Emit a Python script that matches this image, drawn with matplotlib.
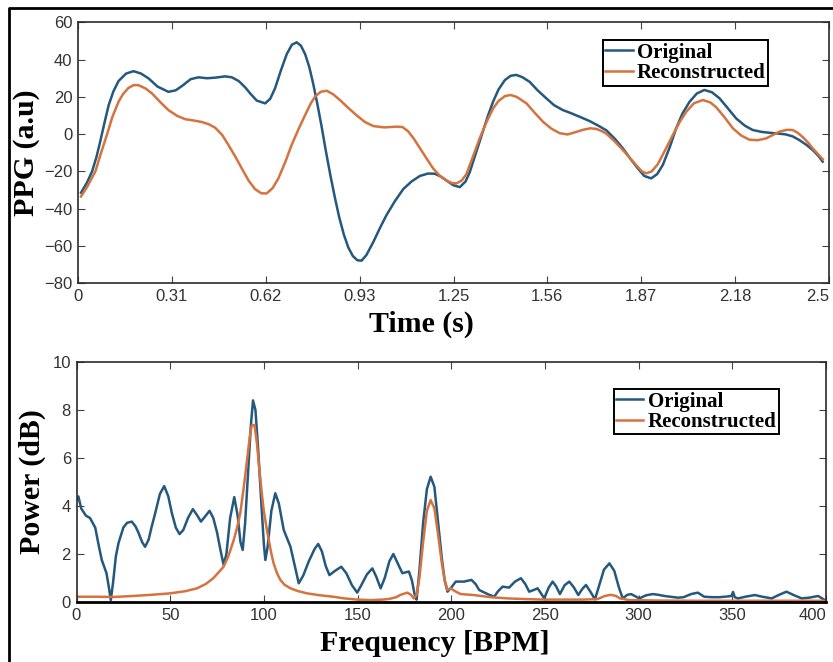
import matplotlib
matplotlib.use("Agg")
import matplotlib.pyplot as plt
from matplotlib.lines import Line2D

# ---------------- data ----------------
t_orig = [0.010,0.030,0.047,0.062,0.074,0.088,0.102,0.118,0.135,0.160,0.185,0.210,0.235,0.265,0.301,0.325,0.346,0.375,0.401,0.430,0.456,0.490,0.512,0.535,0.556,0.575,0.595,0.623,0.640,0.656,0.675,0.695,0.712,0.728,0.742,0.756,0.770,0.783,0.797,0.811,0.825,0.840,0.855,0.870,0.885,0.900,0.915,0.930,0.944,0.960,0.983,1.005,1.027,1.055,1.083,1.110,1.138,1.165,1.188,1.210,1.227,1.250,1.271,1.290,1.304,1.325,1.348,1.365,1.382,1.400,1.421,1.440,1.459,1.480,1.504,1.530,1.559,1.585,1.614,1.637,1.670,1.703,1.730,1.759,1.787,1.814,1.840,1.864,1.885,1.908,1.928,1.947,1.970,1.991,2.012,2.036,2.060,2.085,2.110,2.135,2.160,2.191,2.220,2.246,2.275,2.302,2.330,2.357,2.380,2.401,2.425,2.446,2.465,2.479]
ppg_orig = [-31.5,-26,-20,-12,-4,6,15.5,23,28.5,32.5,33.8,32.5,29.9,25.5,22.7,23.5,25.8,29.5,30.5,30.0,30.3,31,30.5,28.5,25.2,21.5,18,16.5,19,24.6,34,43,48,49.3,47.5,43,36,27,16,4,-9,-22,-34,-45,-54,-61,-65.5,-67.8,-68,-65,-58,-50.5,-43.5,-36,-29.5,-25.5,-22.5,-21.2,-21.3,-23,-25,-27.5,-28.5,-25.5,-20.5,-10,1.5,10,17.5,24,29,31.3,31.8,30.5,28,23.5,19.2,15.5,12.9,11.5,9.3,7,4.7,2,-2.5,-7.7,-13.5,-18.5,-22.5,-23.8,-21.5,-16.5,-7,3,11,17.4,21.8,23.7,22.5,19.3,14.5,8.4,4.5,2.2,1.2,0.7,0.3,-0.2,-1.3,-3.2,-5.8,-8.6,-11.8,-14.8]

t_rec = [0.010,0.030,0.058,0.075,0.096,0.115,0.135,0.150,0.168,0.185,0.201,0.225,0.246,0.275,0.301,0.330,0.357,0.385,0.412,0.435,0.456,0.480,0.501,0.525,0.545,0.568,0.589,0.610,0.628,0.648,0.667,0.690,0.711,0.735,0.756,0.775,0.789,0.808,0.828,0.850,0.872,0.900,0.928,0.955,0.983,1.020,1.060,1.080,1.099,1.118,1.138,1.160,1.182,1.205,1.227,1.245,1.260,1.277,1.293,1.315,1.337,1.360,1.382,1.400,1.421,1.440,1.460,1.493,1.520,1.548,1.575,1.603,1.630,1.655,1.681,1.705,1.725,1.745,1.759,1.787,1.814,1.838,1.858,1.877,1.892,1.910,1.930,1.955,1.980,2.003,2.025,2.050,2.080,2.105,2.124,2.150,2.180,2.208,2.235,2.262,2.291,2.315,2.335,2.360,2.379,2.395,2.412,2.430,2.446,2.462,2.479]
ppg_rec = [-33.5,-28.5,-20,-11,-0.5,9.5,17.4,21.5,24.8,26.3,26.3,24.5,21.9,17,12.9,9.8,8.0,7.3,6.5,5.3,3.5,-0.5,-5.9,-12.5,-18.4,-25,-29.5,-31.8,-31.9,-29,-23.8,-15,-5.9,3,10.2,16.5,20.1,22.7,23.3,21.3,18.3,14,10,6.5,4.3,3.6,4,3.8,1.5,-2.5,-7.5,-13,-18.4,-22.5,-25,-26.3,-26.5,-25,-21.5,-12,-2.3,6.5,13.8,17.8,20.4,21,20,16.5,11.5,6.6,3,0.5,-0.2,1,2.3,3.1,2.8,1.5,0.2,-4,-8.6,-13,-16.7,-20,-21.1,-20,-16.2,-8.5,-0.5,6.5,12,16.5,18.3,17,14.5,9.5,3.1,-0.8,-3,-3.3,-2.3,-0.3,1.3,2.3,2.2,0.8,-1.5,-4.5,-7.7,-10.5,-13.5]

f_orig = [0,1,2.5,5,7.2,10,12,13.5,16,17.3,18.3,19.5,21,22.4,25,27,29.5,31.5,33,35,36.6,38.5,40,42,44.5,46.8,49,50.9,53,55,57,59.5,62.1,64.5,66.4,68.5,71,73,75,77,78.5,80,82,84.2,86,87.5,88.7,90,91.5,93,94.2,95.5,97,98.5,100,100.8,102,104,106.1,108,110.6,114.2,116.5,118.6,121,124,127,129,131,133,135,138,141.3,144,147,149.8,152,155,157.9,160,162.3,164.5,167,169.1,171.5,173.9,177.4,179,180.5,181.5,183,185,187,189,191,193,195,196.5,198,200,202.4,206.8,210.8,213,214.9,219.4,222.9,225,227.4,230.9,234,237.2,239.5,241.6,244,246.1,248,249.6,252,254.1,256,258,260.5,263,265.5,267.8,270,271.9,274.5,276.7,279,281.5,284.4,287,289.5,291.5,294,296,298,300.4,304,307.6,310.5,313.8,317,321,324,328,331.6,335,339,343,346,349.5,350.4,351.3,353,357,362,366,371,375,378.9,383,387,391,395.8,399.4]
pow_orig = [4.25,4.4,3.9,3.6,3.5,3.1,2.3,1.75,1.2,0.6,0.08,0.8,1.9,2.45,3.1,3.3,3.35,3.15,2.9,2.5,2.3,2.6,3.1,3.7,4.5,4.83,4.4,3.7,3.1,2.83,3.0,3.5,3.87,3.6,3.35,3.55,3.8,3.5,2.9,2.1,1.55,2.0,3.5,4.37,3.6,2.5,2.17,3.3,5.3,7.3,8.4,8.0,6.3,4.3,2.4,1.75,2.3,3.8,4.53,4.1,3.0,2.3,1.5,0.78,1.1,1.7,2.2,2.42,2.1,1.5,1.12,1.3,1.47,1.2,0.7,0.39,0.7,1.15,1.4,1.05,0.57,1.0,1.7,2.0,1.6,1.2,1.27,0.9,0.3,0.1,1.3,3.3,4.7,5.22,4.8,3.3,1.8,0.9,0.43,0.6,0.85,0.85,0.92,0.75,0.5,0.33,0.22,0.45,0.64,0.6,0.85,0.99,0.75,0.43,0.5,0.57,0.35,0.15,0.6,0.85,0.65,0.33,0.7,0.85,0.6,0.29,0.55,0.71,0.4,0.11,0.7,1.35,1.61,1.3,0.6,0.15,0.3,0.33,0.25,0.15,0.28,0.33,0.3,0.25,0.22,0.18,0.2,0.33,0.39,0.22,0.2,0.2,0.22,0.25,0.42,0.2,0.15,0.22,0.29,0.22,0.15,0.3,0.43,0.28,0.15,0.18,0.25,0.08]

f_rec = [0,10,20,30,40,50,58,64.3,69,73,76,78.5,81,83.9,85.7,87.4,89.3,91,92.5,93.5,95,96.3,97.5,98.8,99.9,101.2,102.6,103.9,105.2,107,108.8,111,114.2,118,123,130,137,143,149.8,157,163.5,167,170.6,173,176.6,178.5,180,181.5,183,185,187,189,191,193,195,196.5,198,199.7,202,205,212,221,230,240,250,260,270,278,282,285,288,290,295,310,330,350,370,390,400]
pow_rec = [0.22,0.22,0.21,0.25,0.3,0.36,0.45,0.57,0.75,0.99,1.25,1.47,1.9,2.58,3.1,3.7,4.8,5.9,6.9,7.35,7.38,6.6,5.6,4.6,3.83,3.2,2.58,2.05,1.61,1.2,0.92,0.72,0.57,0.46,0.36,0.28,0.22,0.15,0.1,0.08,0.1,0.13,0.2,0.3,0.39,0.3,0.15,0.3,1.0,2.5,3.8,4.25,3.9,2.8,1.6,0.9,0.5,0.57,0.45,0.33,0.29,0.2,0.15,0.12,0.1,0.1,0.1,0.12,0.25,0.3,0.25,0.15,0.08,0.06,0.05,0.05,0.05,0.05,0.05]

time_ticks = [0, 0.3125, 0.625, 0.9375, 1.25, 1.5625, 1.875, 2.1875, 2.5]
time_labels = ['0', '0.31', '0.62', '0.93', '1.25', '1.56', '1.87', '2.18', '2.5']
ppg_ticks = [-80, -60, -40, -20, 0, 20, 40, 60]
freq_ticks = [0, 50, 100, 150, 200, 250, 300, 350, 400]
pow_ticks = [0, 2, 4, 6, 8, 10]
series_names = ['Original', 'Reconstructed']

# ---------------- style ----------------
W, H = 833, 662
C_BLUE = '#24587f'
C_ORANGE = '#d4733f'
LW = 1.8
TICK_FONT = ['Liberation Sans', 'DejaVu Sans']
LABEL_FONT = ['Liberation Serif', 'DejaVu Serif']
LABEL_SIZE = 21.5

fig = plt.figure(figsize=(W / 100, H / 100), dpi=100)
fig.patch.set_facecolor('white')


def box(l, t, r, b):
    return [l / W, 1 - b / H, (r - l) / W, (b - t) / H]


def style_axes(ax):
    for s in ax.spines.values():
        s.set_color('#2a2a2a')
        s.set_linewidth(1.2)
    ax.tick_params(direction='in', length=5, width=0.8, color='#444444',
                   top=True, right=True, labelsize=12, labelcolor='#333333', pad=4)
    for lab in ax.get_xticklabels() + ax.get_yticklabels():
        lab.set_family(TICK_FONT)
    # keep the last x tick label inside the figure
    ax.get_xticklabels()[-1].set_horizontalalignment('right')


def legend(ax, anchor):
    lg = ax.legend(series_names, loc='upper left', bbox_to_anchor=anchor,
                   prop={'family': LABEL_FONT, 'weight': 'bold', 'size': 15},
                   frameon=True, fancybox=False, shadow=False,
                   handlelength=1.3, handletextpad=0.2, borderpad=0.12,
                   labelspacing=0.02, borderaxespad=0)
    fr = lg.get_frame()
    fr.set_edgecolor('black')
    fr.set_linewidth(1.4)
    fr.set_alpha(1)


# ---- top: PPG ----
ax1 = fig.add_axes(box(78, 22.4, 829, 283))
ax1.plot(t_orig, ppg_orig, color=C_BLUE, lw=LW)
ax1.plot(t_rec, ppg_rec, color=C_ORANGE, lw=LW)
ax1.set_xlim(0, 2.5)
ax1.set_ylim(-80, 60)
ax1.set_xticks(time_ticks)
ax1.set_xticklabels(time_labels)
ax1.set_yticks(ppg_ticks)
style_axes(ax1)
ax1.set_xlabel('Time (s)', family=LABEL_FONT, weight='bold', fontsize=LABEL_SIZE)
ax1.xaxis.set_label_coords(0.457, -0.108)
ax1.set_ylabel('PPG (a.u)', family=LABEL_FONT, weight='bold', fontsize=LABEL_SIZE, labelpad=3)
legend(ax1, (0.699, 0.932))

# ---- bottom: spectrum ----
ax2 = fig.add_axes(box(76.5, 362, 826, 602))
ax2.plot(f_orig, pow_orig, color=C_BLUE, lw=LW)
ax2.plot(f_rec, pow_rec, color=C_ORANGE, lw=LW)
ax2.set_xlim(0, 400)
ax2.set_ylim(0, 10)
ax2.set_xticks(freq_ticks)
ax2.set_yticks(pow_ticks)
style_axes(ax2)
ax2.spines['bottom'].set_linewidth(2.0)
ax2.spines['bottom'].set_color('black')
ax2.set_xlabel('Frequency [BPM]', family=LABEL_FONT, weight='bold', fontsize=LABEL_SIZE)
ax2.xaxis.set_label_coords(0.478, -0.115)
ax2.set_ylabel('Power (dB)', family=LABEL_FONT, weight='bold', fontsize=LABEL_SIZE, labelpad=5)
legend(ax2, (0.717, 0.8875))

# outer frame (left and top edges visible)
fig.add_artist(Line2D([9 / W, 9 / W, 1.0], [0.0, 1 - 8 / H, 1 - 8 / H],
                      transform=fig.transFigure, color='black', lw=2.0))

fig.savefig('out.png', dpi=100)
